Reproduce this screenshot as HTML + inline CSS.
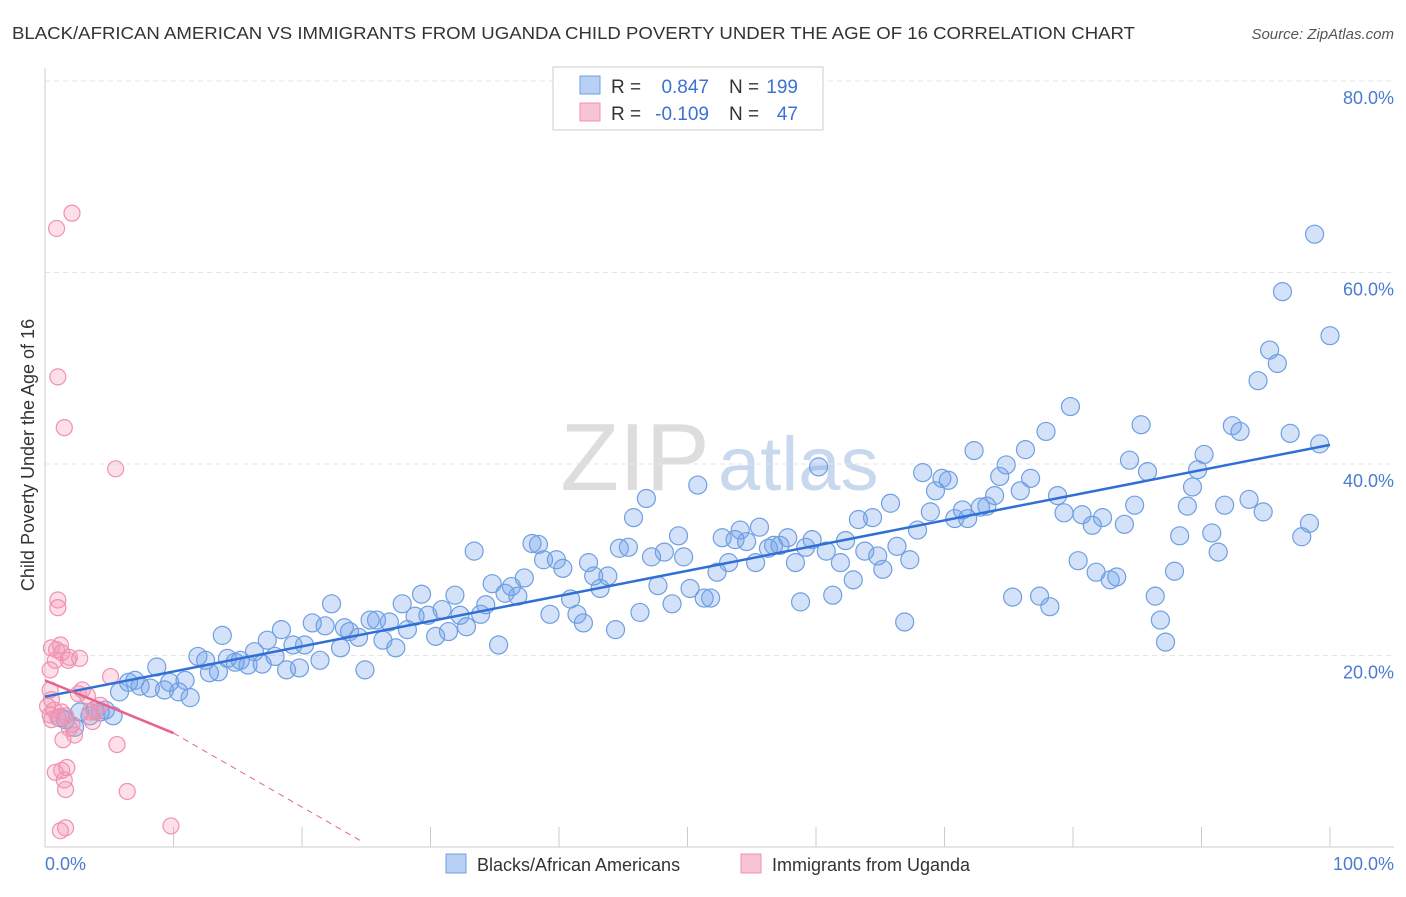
<!DOCTYPE html>
<html><head><meta charset="utf-8"><style>
body{margin:0;background:#fff;font-family:"Liberation Sans",sans-serif;}
svg text{font-family:"Liberation Sans",sans-serif;}
</style></head><body>
<svg id="chart" width="1406" height="892">
<text x="12" y="39" font-size="17.5" fill="#333" textLength="1123" lengthAdjust="spacingAndGlyphs">BLACK/AFRICAN AMERICAN VS IMMIGRANTS FROM UGANDA CHILD POVERTY UNDER THE AGE OF 16 CORRELATION CHART</text>
<text x="1394" y="39" font-size="15" fill="#555" font-style="italic" text-anchor="end">Source: ZipAtlas.com</text>
<text x="635" y="490" font-size="96" fill="#ddd" text-anchor="middle" font-family="Liberation Serif">ZIP</text>
<text x="718" y="490" font-size="76" fill="#c8d8ee">atlas</text>
<g id="grid"></g>
<g id="pts"></g>
<g id="lines"></g>
<text transform="translate(34,455) rotate(-90)" font-size="18" fill="#333" text-anchor="middle">Child Poverty Under the Age of 16</text>
<text x="45" y="870" font-size="18" fill="#4a7bd0">0.0%</text>
<text x="1394" y="870" font-size="18" fill="#4a7bd0" text-anchor="end">100.0%</text>
<g>
<rect x="553" y="67" width="270" height="63" fill="#fff" stroke="#ccc"/>
<rect x="580" y="76" width="20" height="18" fill="#b8d0f4" stroke="#6f9fe0"/>
<rect x="580" y="103" width="20" height="18" fill="#f8c3d3" stroke="#ee93b0"/>
<text x="611" y="93" font-size="19" fill="#333">R =</text>
<text x="709" y="93" font-size="19" fill="#3c72d0" text-anchor="end">0.847</text>
<text x="729" y="93" font-size="19" fill="#333">N =</text>
<text x="798" y="93" font-size="19" fill="#3c72d0" text-anchor="end">199</text>
<text x="611" y="120" font-size="19" fill="#333">R =</text>
<text x="709" y="120" font-size="19" fill="#3c72d0" text-anchor="end">-0.109</text>
<text x="729" y="120" font-size="19" fill="#333">N =</text>
<text x="798" y="120" font-size="19" fill="#3c72d0" text-anchor="end">47</text>
</g>
<g>
<rect x="446" y="854" width="20" height="19" fill="#b8d0f4" stroke="#6f9fe0"/>
<text x="477" y="871" font-size="18" fill="#333">Blacks/African Americans</text>
<rect x="741" y="854" width="20" height="19" fill="#f8c3d3" stroke="#ee93b0"/>
<text x="772" y="871" font-size="18" fill="#333">Immigrants from Uganda</text>
</g>
</svg>
<script>
const yTicks=[20,40,60,80];
const yTickLabels=["20.0%","40.0%","60.0%","80.0%"];
const xTicks=[0,10,20,30,40,50,60,70,80,90,100];
const blueX=[1.2,1.6,2.3,2.7,3.5,3.9,4.3,4.7,5.3,5.8,6.5,7.0,7.4,8.2,8.7,9.3,9.7,10.4,10.9,11.3,11.9,12.5,12.8,13.5,13.8,14.2,14.8,15.2,15.8,16.3,16.9,17.3,17.9,18.4,18.8,19.3,19.8,20.2,20.8,21.4,21.8,22.3,23.0,23.3,23.7,24.4,24.9,25.3,25.8,26.3,26.8,27.3,27.8,28.2,28.8,29.3,29.8,30.4,30.9,31.4,31.9,32.3,32.8,33.4,33.9,34.3,34.8,35.3,35.8,36.3,36.8,37.3,37.9,38.4,38.8,39.3,39.8,40.3,40.9,41.4,41.9,42.3,42.7,43.2,43.8,44.4,44.7,45.4,45.8,46.3,46.8,47.2,47.7,48.2,48.8,49.3,49.7,50.2,50.8,51.3,51.8,52.3,52.7,53.2,53.7,54.1,54.6,55.3,55.6,56.3,56.7,57.2,57.8,58.4,58.8,59.2,59.7,60.2,60.8,61.3,61.9,62.3,62.9,63.3,63.8,64.4,64.8,65.2,65.8,66.3,66.9,67.3,67.9,68.3,68.9,69.3,69.8,70.3,70.8,71.4,71.8,72.3,72.8,73.3,73.9,74.3,74.8,75.3,75.9,76.3,76.7,77.4,77.9,78.2,78.8,79.3,79.8,80.4,80.7,81.5,81.8,82.3,82.9,83.4,84.0,84.4,84.8,85.3,85.8,86.4,86.8,87.2,87.9,88.3,88.9,89.3,89.7,90.2,90.8,91.3,91.8,92.4,93.0,93.7,94.4,94.8,95.3,95.9,96.3,96.9,97.8,98.4,98.8,99.2,100.0];
const blueY=[13.5,13.3,12.5,14.1,13.7,14.3,14.1,14.3,13.7,16.2,17.2,17.4,16.8,16.6,18.8,16.4,17.2,16.2,17.4,15.6,19.9,19.5,18.2,18.3,22.1,19.7,19.3,19.5,19.0,20.4,19.1,21.6,19.9,22.7,18.5,21.1,18.7,21.1,23.4,19.5,23.1,25.4,20.8,22.9,22.5,21.9,18.5,23.7,23.7,21.6,23.5,20.8,25.4,22.7,24.1,26.4,24.2,22.0,24.8,22.5,26.3,24.2,23.0,30.9,24.3,25.3,27.5,21.1,26.5,27.2,26.2,28.1,31.7,31.6,30.0,24.3,30.0,29.1,25.9,24.3,23.4,29.7,28.3,27.0,28.3,22.7,31.2,31.3,34.4,24.5,36.4,30.3,27.3,30.8,25.4,32.5,30.3,27.0,37.8,26.0,26.0,28.7,32.3,29.7,32.1,33.1,31.9,29.7,33.4,31.2,31.5,31.5,32.3,29.7,25.6,31.3,32.1,39.7,30.9,26.3,29.7,32.0,27.9,34.2,30.9,34.4,30.4,29.0,35.9,31.4,23.5,30.0,33.1,39.1,35.0,37.2,38.5,38.3,34.3,35.2,34.3,41.4,35.5,35.6,36.7,38.7,39.9,26.1,37.2,41.5,38.5,26.2,43.4,25.1,36.7,34.9,46.0,29.9,34.7,33.6,28.7,34.4,27.9,28.2,33.7,40.4,35.7,44.1,39.2,26.2,23.7,21.4,28.8,32.5,35.6,37.6,39.4,41.0,32.8,30.8,35.7,44.0,43.4,36.3,48.7,35.0,51.9,50.5,58.0,43.2,32.4,33.8,64.0,42.1,53.4];
const pinkX=[0.5,0.9,1.0,0.8,1.2,1.3,1.8,1.9,2.7,0.4,0.5,0.7,1.0,1.3,1.6,1.9,2.3,1.0,1.5,0.9,2.1,5.5,5.1,2.9,3.9,4.3,3.7,1.4,0.8,1.3,1.7,1.6,1.5,5.6,6.4,1.2,1.6,9.8,0.4,0.2,0.5,1.0,0.4,2.6,3.3,3.5,2.1];
const pinkY=[20.8,20.6,25.8,19.5,21.1,20.3,19.5,19.8,19.7,16.4,15.4,14.3,13.5,14.1,13.7,12.4,11.7,49.1,43.8,64.6,66.2,39.5,17.8,16.4,14.1,14.8,13.1,11.2,7.8,8.0,8.3,6.0,7.0,10.7,5.8,1.7,2.0,2.2,18.5,14.7,13.3,25.0,13.8,16.0,15.8,14.1,12.8];
const blueFit=[15.7,42.0];
const pinkFit=[17.4,-0.55];
const pinkDashEnd=[24.5,0.7];
const NS='http://www.w3.org/2000/svg';
const xs=v=>45+v*12.85, ys=v=>847-v*9.575;
function mk(t,a,p){const e=document.createElementNS(NS,t);for(const k in a)e.setAttribute(k,a[k]);p.appendChild(e);return e;}
const grid=document.getElementById('grid');
yTicks.forEach((t,i)=>{
 const l=mk('line',{x1:45,x2:1394,y1:ys(t),y2:ys(t),stroke:'#e4e4e4','stroke-dasharray':'5,4'},grid);
 
 
 const tx=mk('text',{x:1394,y:ys(t)+23,'font-size':18,fill:'#4a7bd0','text-anchor':'end'},grid);
 tx.textContent=yTickLabels[i];
 
 
});
const ax=mk('line',{x1:45,x2:1394,y1:847,y2:847,stroke:'#ccc'},grid);


const ay=mk('line',{x1:45,x2:45,y1:68,y2:847,stroke:'#ccc'},grid);


xTicks.forEach(t=>{const l=mk('line',{x1:xs(t),x2:xs(t),y1:827,y2:847,stroke:'#ccc'},grid);
 
 });
const pts=document.getElementById('pts');
blueX.forEach((x,i)=>{const c=mk('circle',{cx:xs(x),cy:ys(blueY[i]),r:9,fill:'rgba(110,160,235,0.3)',stroke:'#6f9fe0','stroke-width':1.2},pts);
 
 });
pinkX.forEach((x,i)=>{const c=mk('circle',{cx:xs(x),cy:ys(pinkY[i]),r:8,fill:'rgba(245,150,180,0.3)',stroke:'#ee93b0','stroke-width':1.2},pts);
 
 });
const lines=document.getElementById('lines');
const bl=mk('line',{x1:xs(0),y1:ys(blueFit[0]),x2:xs(100),y2:ys(blueFit[1]),stroke:'#2f6fd6','stroke-width':2.5},lines);


const pl=mk('line',{x1:xs(0),y1:ys(pinkFit[0]),x2:xs(10),y2:ys(pinkFit[0]+pinkFit[1]*10),stroke:'#e8628f','stroke-width':2.5},lines);


const pd=mk('line',{x1:xs(10),y1:ys(pinkFit[0]+pinkFit[1]*10),x2:xs(pinkDashEnd[0]),y2:ys(pinkDashEnd[1]),stroke:'#e8628f','stroke-width':1,'stroke-dasharray':'6,5'},lines);


</script>
</body></html>
